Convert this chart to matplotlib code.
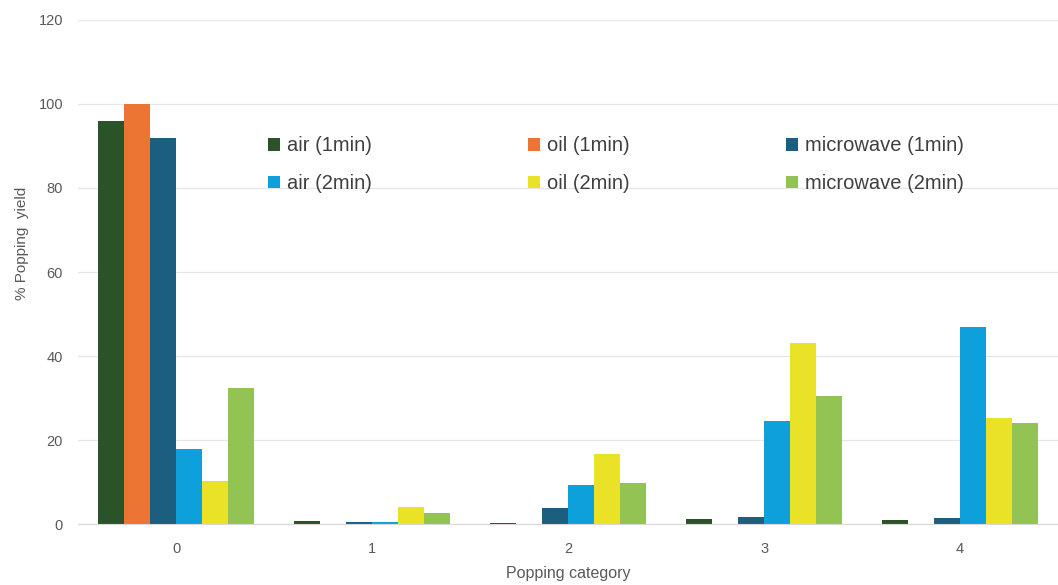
import numpy as np
import matplotlib.pyplot as plt

categories = ["0", "1", "2", "3", "4"]
series_names = ["air (1min)", "oil (1min)", "microwave (1min)",
                "air (2min)", "oil (2min)", "microwave (2min)"]
air_1min = [96.0, 0.7, 0.3, 1.2, 1.0]
oil_1min = [100.0, 0.0, 0.0, 0.0, 0.0]
microwave_1min = [92.0, 0.6, 3.8, 1.7, 1.5]
air_2min = [18.0, 0.4, 9.2, 24.5, 47.0]
oil_2min = [10.3, 4.2, 16.6, 43.0, 25.3]
microwave_2min = [32.3, 2.7, 9.7, 30.5, 24.0]

colors = ["#2B5329", "#EC7533", "#1B5E80", "#0EA0DA", "#EAE227", "#92C353"]

plt.rcParams["font.family"] = ["Liberation Sans", "DejaVu Sans"]

fig = plt.figure(figsize=(10.58, 5.85), dpi=100)
ax = fig.add_axes([0.074, 0.104, 0.926, 0.862])

values = [air_1min, oil_1min, microwave_1min, air_2min, oil_2min, microwave_2min]
x = np.arange(len(categories))
width = 0.133
handles = []
for i, (name, vals) in enumerate(zip(series_names, values)):
    offset = (i - 2.5) * width
    b = ax.bar(x + offset, vals, width, color=colors[i], label=name, zorder=2)
    handles.append(b)

ax.set_xlim(-0.5, 4.5)
ax.set_ylim(0, 120)
ax.set_yticks(range(0, 121, 20))
ax.set_xticks(x)
ax.set_xticklabels(categories)
ax.grid(axis="y", color="#E6E6E6", linewidth=0.9, zorder=0)

for s in ["top", "right", "left"]:
    ax.spines[s].set_visible(False)
ax.spines["bottom"].set_color("#D9D9D9")
ax.tick_params(axis="both", length=0, labelsize=10.5, colors="#595959")
ax.tick_params(axis="x", pad=13)
ax.tick_params(axis="y", pad=11)

ax.set_xlabel("Popping category", fontsize=11.5, color="#595959", labelpad=7)
ax.set_ylabel("% Popping  yield", fontsize=11, color="#595959")
ax.yaxis.set_label_coords(-0.05, 0.557)

# legend goes column by column, so reorder to get the 2x3 layout
order = [0, 3, 1, 4, 2, 5]
leg = ax.legend([handles[k] for k in order], [series_names[k] for k in order],
                ncol=3, frameon=False, loc="upper left",
                bbox_to_anchor=(0.175, 0.805), fontsize=14.5,
                handlelength=0.6, handleheight=0.6, handletextpad=0.35,
                columnspacing=7.75, labelspacing=0.93)
for t in leg.get_texts():
    t.set_color("#404040")

fig.savefig("out.png", dpi=100)
